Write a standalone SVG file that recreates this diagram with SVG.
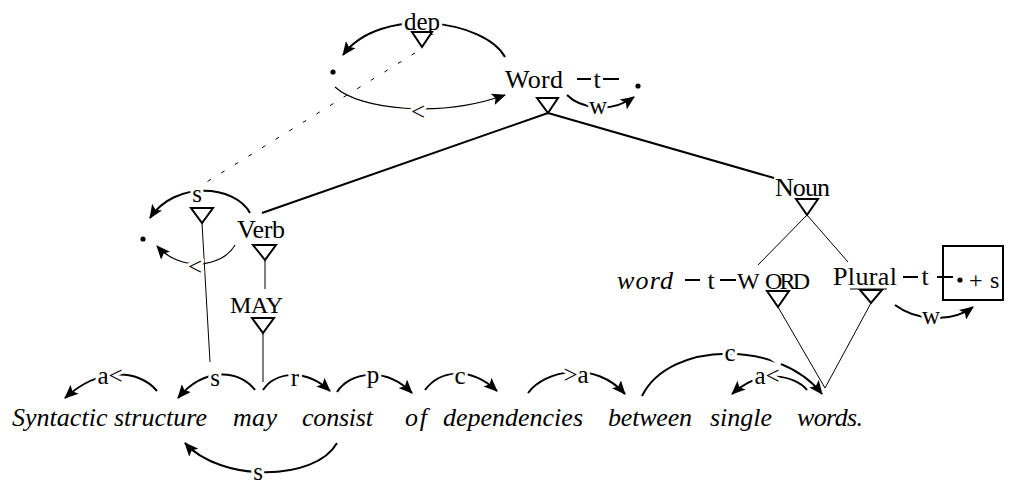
<svg xmlns="http://www.w3.org/2000/svg" width="1019" height="483" viewBox="0 0 1019 483">
<defs>
<marker id="ah" markerUnits="userSpaceOnUse" markerWidth="14" markerHeight="12" refX="13" refY="6" orient="auto">
<path d="M0,0 L14,6 L0,12 L3,6 z" fill="#000"/>
</marker>
<style>
text{font-family:"Liberation Serif","Times New Roman",serif;fill:#000}
.n{font-size:26px}
.s{font-size:24px}
.it{font-style:italic;font-size:26px}
.lbl{font-size:25px;text-anchor:middle;stroke:#fff;stroke-width:6px;paint-order:stroke;stroke-linejoin:round}
.thick{stroke:#000;stroke-width:2;fill:none}
.thin{stroke:#000;stroke-width:1;fill:none}
.arr{stroke:#000;stroke-width:2;fill:none;marker-end:url(#ah)}
.arrt{stroke:#000;stroke-width:1.2;fill:none;marker-end:url(#ah)}
.tri{fill:#fff;stroke:#000;stroke-width:2}
</style>
</defs>
<rect width="1019" height="483" fill="#fff"/>

<g id="connectors">
<line class="thin" x1="415" y1="53" x2="197" y2="188" stroke-dasharray="4 12"/>
<path class="arr" d="M505,57 C485,20 380,5 343,55"/>
<path class="arrt" d="M335,87 C360,110 440,118 505,95"/>
<path class="arr" d="M567,95 C580,108 610,114 634,97"/>
<line class="thick" x1="548" y1="113" x2="262" y2="213"/>
<line class="thick" x1="548" y1="113" x2="774" y2="178"/>
<path class="arr" d="M250,213 C235,185 175,180 150,218"/>
<path class="arrt" d="M235,245 C222,268 180,272 157,246"/>
<line class="thin" x1="202" y1="223" x2="210" y2="362"/>
<line class="thin" x1="265" y1="260" x2="265" y2="289"/>
<line class="thin" x1="263" y1="333" x2="263" y2="382"/>
<line class="thin" x1="807" y1="215" x2="758" y2="265"/>
<line class="thin" x1="807" y1="215" x2="848" y2="262"/>
<line class="thin" x1="778" y1="307" x2="825" y2="388"/>
<line class="thin" x1="871" y1="303" x2="825" y2="388"/>
<path class="arr" d="M895,305 C915,320 950,324 973,307"/>
<path class="arr" d="M157,391 C140,370 100,366 65,398"/>
<path class="arr" d="M255,390 C240,370 205,366 178,398"/>
<path class="arr" d="M263,390 C275,372 305,368 330,391"/>
<path class="arr" d="M337,392 C350,372 385,366 412,393"/>
<path class="arr" d="M425,390 C440,370 470,366 497,391"/>
<path class="arr" d="M528,393 C545,370 595,360 625,394"/>
<path class="arr" d="M642,396 C670,340 780,340 822,394"/>
<line x1="770" y1="356" x2="781" y2="364" stroke="#fff" stroke-width="5"/>
<path class="arr" d="M807,390 C795,375 760,368 732,394"/>
<path class="arr" d="M337,443 C315,482 220,482 185,443"/>
<text class="lbl" x="422" y="30">dep</text>
<text class="lbl" x="418" y="120">&lt;</text>
<text class="lbl" x="598" y="114">w</text>
<text class="lbl" x="197" y="202">s</text>
<text class="lbl" x="195" y="275">&lt;</text>
<text class="lbl" x="931" y="324">w</text>
<text class="lbl" x="110" y="384">a&lt;</text>
<text class="lbl" x="215" y="386">s</text>
<text class="lbl" x="295" y="386">r</text>
<text class="lbl" x="373" y="383">p</text>
<text class="lbl" x="460" y="384">c</text>
<text class="lbl" x="576" y="383">&gt;a</text>
<text class="lbl" x="730" y="361">c</text>
<text class="lbl" x="767" y="384">a&lt;</text>
<text class="lbl" x="258" y="480">s</text>
</g>

<g id="dep-tri"><polygon class="tri" points="412,32 432,32 422,47"/></g>
<g id="dot-top"><circle cx="333" cy="72" r="2.6"/></g>
<g id="word">
<text class="n" x="505" y="88" textLength="58" lengthAdjust="spacing">Word</text>
<line class="thick" x1="577" y1="79" x2="591" y2="79"/>
<text class="n" x="597" y="88" text-anchor="middle">t</text>
<line class="thick" x1="603" y1="79" x2="619" y2="79"/>
<polygon class="tri" points="537,98 558,98 548,113"/>
</g>
<g id="dot-word"><circle cx="638" cy="86" r="2.6"/></g>
<g id="dot-left"><circle cx="143" cy="239" r="2.6"/></g>
<g id="s-tri"><polygon class="tri" points="191,208 213,208 202,223"/></g>
<g id="verb">
<text class="n" x="237" y="238" textLength="48" lengthAdjust="spacing">Verb</text>
<polygon class="tri" points="253,245 276,245 265,260"/>
</g>
<g id="may-node">
<text class="s" x="230" y="313" textLength="53" lengthAdjust="spacing">MAY</text>
<polygon class="tri" points="252,318 274,318 263,333"/>
</g>
<g id="noun">
<text class="n" x="775" y="196" textLength="55" lengthAdjust="spacing">Noun</text>
<polygon class="tri" points="796,199 818,199 807,215"/>
</g>
<g id="word-lex">
<text class="it" x="617" y="289" textLength="56" lengthAdjust="spacing">word</text>
<line class="thick" x1="685" y1="280" x2="700" y2="280"/>
<text class="n" x="711" y="289" text-anchor="middle">t</text>
<line class="thick" x1="720" y1="280" x2="736" y2="280"/>
<text class="s" x="737" y="289">W</text>
<text class="s" x="765" y="289" textLength="45" lengthAdjust="spacing">ORD</text>
<polygon class="tri" points="767,291 789,291 778,307"/>
</g>
<g id="plural">
<text class="n" x="833" y="285" textLength="64" lengthAdjust="spacing">Plural</text>
<line class="thin" x1="850" y1="289" x2="887" y2="289"/>
<polygon class="tri" points="860,290 882,290 871,303"/>
<line class="thick" x1="903" y1="277" x2="918" y2="277"/>
<text class="n" x="925" y="285" text-anchor="middle">t</text>
<line class="thick" x1="937" y1="277" x2="953" y2="277"/>
</g>
<g id="suffix-box">
<path class="thick" d="M943,246 H1003 V300 H943 Z"/>
<circle cx="960" cy="280" r="2.6"/>
<text class="s" x="969" y="288">+</text>
<text class="s" x="990" y="288">s</text>
</g>
<g id="sentence">
<text class="it" x="12" y="426" textLength="195" lengthAdjust="spacing">Syntactic structure</text>
<text class="it" x="233" y="426" textLength="44" lengthAdjust="spacing">may</text>
<text class="it" x="302" y="426" textLength="71" lengthAdjust="spacing">consist</text>
<text class="it" x="405" y="426" textLength="22" lengthAdjust="spacing">of</text>
<text class="it" x="443" y="426" textLength="140" lengthAdjust="spacing">dependencies</text>
<text class="it" x="608" y="426" textLength="84" lengthAdjust="spacing">between</text>
<text class="it" x="710" y="426" textLength="62" lengthAdjust="spacing">single</text>
<text class="it" x="797" y="426" textLength="66" lengthAdjust="spacing">words.</text>
</g>
</svg>
